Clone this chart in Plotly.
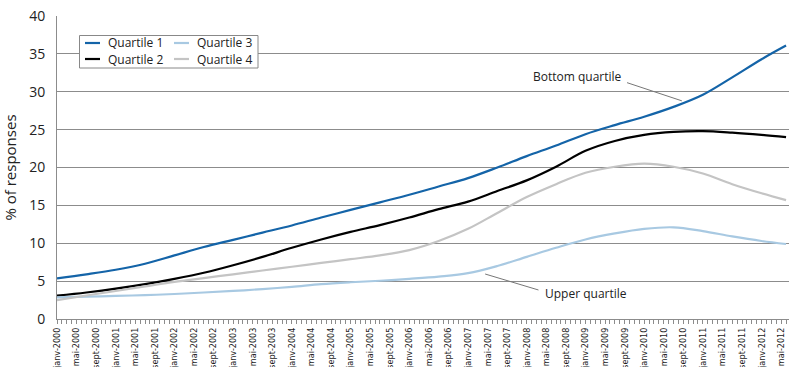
import plotly.graph_objects as go

# month index (0 = janv-2000), readings every 6 months
months = [0, 6, 12, 18, 24, 30, 36, 42, 48, 54, 60, 66, 72, 78, 84, 90, 96, 102,
          108, 114, 120, 126, 132, 138, 144, 149]
quartile1 = [5.37, 5.9, 6.5, 7.3, 8.4, 9.5, 10.45, 11.4, 12.35, 13.4, 14.4, 15.4, 16.4,
             17.5, 18.6, 20.0, 21.5, 22.9, 24.4, 25.6, 26.7, 28.0, 29.6, 31.9, 34.3, 36.1]
quartile2 = [3.08, 3.5, 4.0, 4.6, 5.3, 6.1, 7.1, 8.2, 9.4, 10.5, 11.5, 12.4, 13.4,
             14.5, 15.5, 16.9, 18.3, 20.1, 22.2, 23.5, 24.3, 24.7, 24.8, 24.6, 24.3, 24.0]
quartile3 = [2.86, 2.95, 3.05, 3.15, 3.3, 3.5, 3.7, 3.95, 4.25, 4.6, 4.85, 5.05, 5.3,
             5.6, 6.05, 7.0, 8.2, 9.4, 10.5, 11.3, 11.9, 12.1, 11.6, 10.9, 10.3, 9.9]
quartile4 = [2.5, 3.1, 3.7, 4.3, 4.9, 5.4, 5.9, 6.4, 6.9, 7.4, 7.9, 8.4, 9.1,
             10.3, 11.9, 14.0, 16.1, 17.8, 19.3, 20.1, 20.5, 20.1, 19.2, 17.8, 16.6, 15.7]

series_names = ["Quartile 1", "Quartile 2", "Quartile 3", "Quartile 4"]
month_names = ["janv", "mai", "sept"]
years = list(range(2000, 2013))
tick_vals = []
tick_text = []
for yi, yr in enumerate(years):
    for mi, mn in enumerate(month_names):
        idx = yi * 12 + mi * 4
        if idx <= 149:
            tick_vals.append(idx)
            tick_text.append(f"{mn}-{yr}")

FONT = "Open Sans"
TXT = "#222222"
GRID = "#8c8c8c"
COLORS = ["#1464a8", "#000000", "#a8c9e2", "#c4c4c4"]

# plot area in pixels
L, T, W, H = 57, 16, 732, 303


def px_x(p):
    return (p - L) / W


def px_y(p):
    return (T + H - p) / H


fig = go.Figure()
for name, vals, col in zip(series_names, [quartile1, quartile2, quartile3, quartile4], COLORS):
    fig.add_trace(go.Scatter(x=months, y=vals, mode="lines", name=name, showlegend=False,
                             line=dict(color=col, width=2.2, shape="spline", smoothing=1.0)))

# annotation leader lines
fig.add_shape(type="line", x0=116.5, y0=31.2, x1=127.7, y1=28.8,
              line=dict(color="#777777", width=1))
fig.add_shape(type="line", x0=87.5, y0=5.94, x1=98.4, y1=3.83,
              line=dict(color="#777777", width=1))
fig.add_annotation(x=115.8, y=31.95, text="Bottom quartile", showarrow=False,
                   xanchor="right", yanchor="middle", font=dict(size=12, color=TXT, family=FONT))
fig.add_annotation(x=99.4, y=3.43, text="Upper quartile", showarrow=False,
                   xanchor="left", yanchor="middle", font=dict(size=12, color=TXT, family=FONT))

# legend (box, samples, labels)
fig.add_shape(type="rect", xref="paper", yref="paper",
              x0=px_x(79.5), x1=px_x(258), y0=px_y(68), y1=px_y(35.5),
              line=dict(color="#888888", width=1), fillcolor="white", layer="above")
leg_pos = [(85, 43), (85, 59), (174, 43), (174, 59)]
for (lx, ly), name, col in zip(leg_pos, series_names, COLORS):
    fig.add_shape(type="line", xref="paper", yref="paper",
                  x0=px_x(lx), x1=px_x(lx + 15), y0=px_y(ly), y1=px_y(ly),
                  line=dict(color=col, width=2.2), layer="above")
    fig.add_annotation(xref="paper", yref="paper", x=px_x(lx + 21), y=px_y(ly),
                       text=name, showarrow=False, xanchor="left", yanchor="middle",
                       font=dict(size=12, color=TXT, family=FONT))

fig.update_layout(
    width=789, height=367,
    margin=dict(l=L, r=0, t=T, b=367 - T - H),
    paper_bgcolor="white", plot_bgcolor="white",
    font=dict(family=FONT, color=TXT),
    showlegend=False,
    xaxis=dict(range=[0, 149.6], tickmode="array", tickvals=tick_vals, ticktext=tick_text,
               tickangle=-90, ticks="outside", ticklen=4, tickcolor=GRID,
               tickfont=dict(size=9, family="Liberation Sans Narrow, DejaVu Sans Condensed, Arial", color=TXT),
               minor=dict(dtick=1, tick0=0, ticks="outside", ticklen=4, tickcolor=GRID),
               showgrid=False, showline=True, linecolor=GRID, linewidth=1,
               automargin=False, zeroline=False),
    yaxis=dict(range=[0, 40], dtick=5, showgrid=True, gridcolor=GRID, gridwidth=1,
               showline=True, linecolor=GRID, linewidth=1, zeroline=False,
               tickfont=dict(size=14, color=TXT, family=FONT), ticklabelstandoff=8,
               title=dict(text="% of responses", font=dict(size=15, color=TXT, family=FONT), standoff=8),
               automargin=False),
)

fig.write_html("out.html", config={"displayModeBar": False},
               post_script="document.body.style.margin='0';")
